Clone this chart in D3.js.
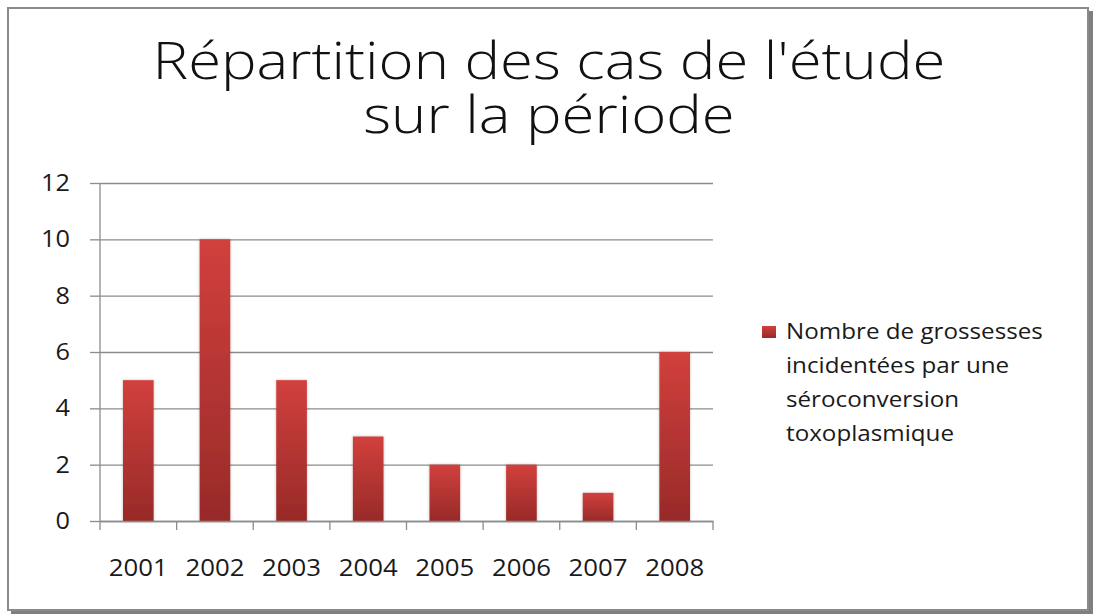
<!DOCTYPE html>
<html lang="fr">
<head>
<meta charset="UTF-8">
<title>Répartition des cas de l'étude sur la période</title>
<script src="https://d3js.org/d3.v7.min.js"></script>
<style>
  body { margin: 0; background: #fff; }
  svg { display: block; font-family: "Open Sans", "DejaVu Sans", sans-serif; }
  .tick text { fill: #1a1a1a; }
</style>
</head>
<body>
<svg width="1093" height="614"></svg>
<script>
const years = ["2001", "2002", "2003", "2004", "2005", "2006", "2007", "2008"];
const cas = [5, 10, 5, 3, 2, 2, 1, 6];
const yTicks = [0, 2, 4, 6, 8, 10, 12];
const titleLines = ["Répartition des cas de l'étude", "sur la période"];
const legendLines = ["Nombre de grossesses", "incidentées par une", "séroconversion", "toxoplasmique"];

const svg = d3.select("svg");
const data = years.map((y, i) => ({ annee: y, valeur: cas[i] }));

// le texte de l'original est un peu étiré horizontalement
function etirer(sel, f) {
  sel.each(function () {
    const w = this.getComputedTextLength();
    d3.select(this).attr("textLength", w * f).attr("lengthAdjust", "spacingAndGlyphs");
  });
}

// cadre avec ombre
svg.append("rect").attr("x", 11).attr("y", 11).attr("width", 1082).attr("height", 603).attr("fill", "#7f7f7f");
svg.append("rect").attr("x", 8).attr("y", 8).attr("width", 1080).attr("height", 602)
  .attr("fill", "#fff").attr("stroke", "#8a8a8a").attr("stroke-width", 2);

// titre
svg.selectAll(".titre")
  .data(titleLines)
  .enter().append("text")
  .attr("class", "titre")
  .attr("x", 549)
  .attr("y", (d, i) => 79 + i * 54)
  .attr("text-anchor", "middle")
  .attr("font-size", 52)
  .attr("font-weight", 300)
  .attr("fill", "#111")
  .text(d => d)
  .call(etirer, 1.15);

const margin = { top: 183, left: 100 };
const width = 613, height = 338;

const g = svg.append("g").attr("transform", `translate(${margin.left},${margin.top})`);

const x = d3.scaleBand().domain(years).range([0, width]).paddingInner(0.6).paddingOuter(0.3);
const xAxisScale = d3.scaleBand().domain(years).range([0, width]);
const y = d3.scaleLinear().domain([0, 12]).range([height, 0]);

const defs = svg.append("defs");
const grad = defs.append("linearGradient").attr("id", "barGrad")
  .attr("x1", 0).attr("y1", 0).attr("x2", 0).attr("y2", 1);
grad.append("stop").attr("offset", "0%").attr("stop-color", "#d1403d");
grad.append("stop").attr("offset", "100%").attr("stop-color", "#982a28");

const shadow = defs.append("filter").attr("id", "ombre").attr("x", "-30%").attr("y", "-10%").attr("width", "160%").attr("height", "120%");
shadow.append("feGaussianBlur").attr("in", "SourceAlpha").attr("stdDeviation", 1.5).attr("result", "b");
shadow.append("feComponentTransfer").append("feFuncA").attr("type", "linear").attr("slope", 0.25);
const merge = shadow.append("feMerge");
merge.append("feMergeNode");
merge.append("feMergeNode").attr("in", "SourceGraphic");

// grille
g.append("g")
  .call(d3.axisLeft(y).tickValues(yTicks).tickSize(-width).tickPadding(0).tickFormat(""))
  .call(s => s.select(".domain").remove())
  .call(s => s.selectAll("line").attr("stroke", "#8c8c8c").attr("stroke-width", 1.3));

// barres
g.selectAll(".bar")
  .data(data)
  .enter().append("rect")
  .attr("class", "bar")
  .attr("x", d => x(d.annee))
  .attr("y", d => y(d.valeur))
  .attr("width", x.bandwidth())
  .attr("height", d => height - y(d.valeur))
  .attr("fill", "url(#barGrad)")
  .attr("filter", "url(#ombre)");

// axe Y
g.append("g")
  .call(d3.axisLeft(y).tickValues(yTicks).tickSize(10).tickPadding(20))
  .call(s => s.selectAll("line").attr("stroke", "#8c8c8c").attr("stroke-width", 1.3))
  .call(s => s.select(".domain").attr("stroke", "#8c8c8c").attr("stroke-width", 1.3).attr("d", `M0,${height}V0`))
  .call(s => s.selectAll("text").attr("font-size", 23).attr("font-family", "'Open Sans', sans-serif").call(etirer, 1.1));

// axe X
g.append("g").attr("transform", `translate(0,${height})`)
  .call(d3.axisBottom(xAxisScale).tickSize(0).tickPadding(39))
  .call(s => s.select(".domain").attr("stroke", "#8c8c8c").attr("stroke-width", 1.3))
  .call(s => s.selectAll("text").attr("font-size", 23).attr("font-family", "'Open Sans', sans-serif").call(etirer, 1.12));

g.append("g").selectAll("line")
  .data(years.concat(["fin"]))
  .enter().append("line")
  .attr("x1", (d, i) => i * xAxisScale.step())
  .attr("x2", (d, i) => i * xAxisScale.step())
  .attr("y1", height).attr("y2", height + 9)
  .attr("stroke", "#8c8c8c").attr("stroke-width", 1.3);

// légende
const leg = svg.append("g").attr("transform", "translate(762,326)");
leg.append("rect").attr("width", 14).attr("height", 12).attr("fill", "url(#barGrad)");
leg.selectAll("text")
  .data(legendLines)
  .enter().append("text")
  .attr("x", 24)
  .attr("y", (d, i) => 13 + i * 34)
  .attr("font-size", 22)
  .attr("fill", "#1a1a1a")
  .text(d => d)
  .call(etirer, 1.1);
</script>
</body>
</html>
